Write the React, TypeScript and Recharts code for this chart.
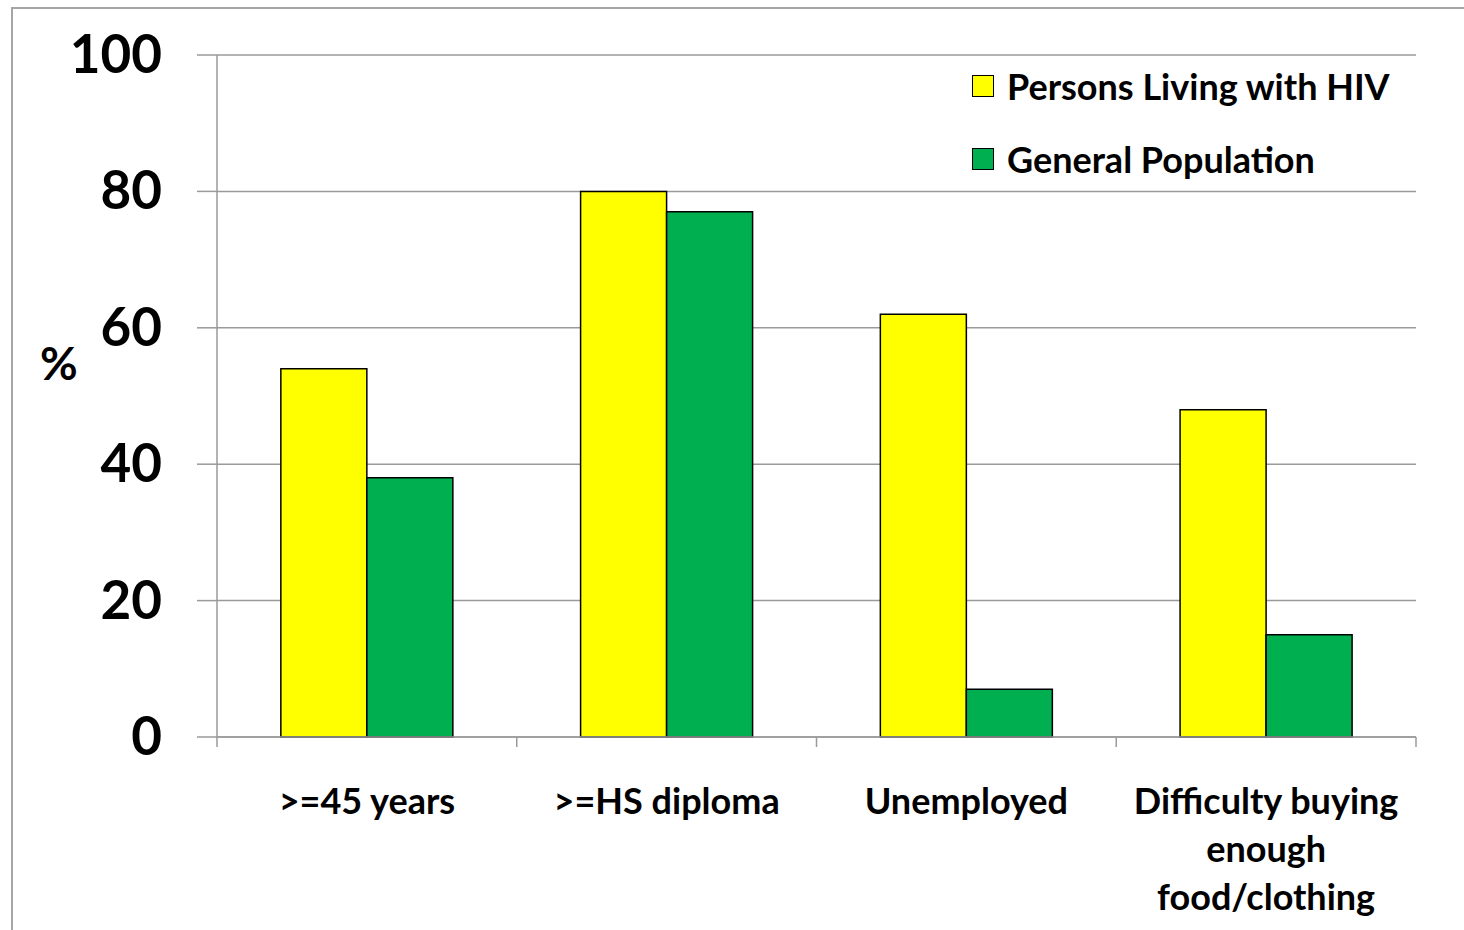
import React from 'react';
import { BarChart, Bar, XAxis, YAxis, CartesianGrid, Legend } from 'recharts';

const categories = ['>=45 years', '>=HS diploma', 'Unemployed', 'Difficulty buying enough food/clothing'];
const categoryLines = [['>=45 years'], ['>=HS diploma'], ['Unemployed'], ['Difficulty buying', 'enough', 'food/clothing']];
const plwh = [54, 80, 62, 48];
const general = [38, 77, 7, 15];
const yTicks = [0, 20, 40, 60, 80, 100];
const seriesNames = ['Persons Living with HIV', 'General Population'];
const seriesColors = ['#FFFF00', '#00B050'];

const data = categories.map((c, i) => ({ cat: c, idx: i, plwh: plwh[i], general: general[i] }));

const FONT = 'Lato, "Open Sans", sans-serif';
const GRID = '#9a9a9a';

const CatTick = (props: any) => {
  const { x, y, payload, index } = props;
  const half = payload && payload.offset ? payload.offset : 149.875;
  const lines = categoryLines[payload.index ?? index] || [payload.value];
  return (
    <g>
      <line x1={x - half} x2={x - half} y1={y - 10} y2={y} stroke={GRID} strokeWidth={1.5} />
      {index === categories.length - 1 && (
        <line x1={x + half} x2={x + half} y1={y - 10} y2={y} stroke={GRID} strokeWidth={1.5} />
      )}
      {lines.map((l: string, i: number) => (
        <text key={i} x={x} y={y + 67 + i * 48} textAnchor="middle" fontFamily={FONT} fontWeight={700} fontSize={36} fill="#000">
          {l}
        </text>
      ))}
    </g>
  );
};

const YTick = (props: any) => {
  const { x, y, payload } = props;
  return (
    <text x={x} y={y + 18} textAnchor="end" fontFamily={FONT} fontWeight={700} fontSize={53} fill="#000">
      {payload.value}
    </text>
  );
};

const LegendContent = () => (
  <div style={{ fontFamily: FONT, fontWeight: 700, fontSize: 36, color: '#000' }}>
    {seriesNames.map((n, i) => (
      <div key={n} style={{ display: 'flex', alignItems: 'center', height: 73 }}>
        <div style={{ width: 20, height: 20, background: seriesColors[i], border: '1.5px solid #000', marginRight: 13 }} />
        <span>{n}</span>
      </div>
    ))}
  </div>
);

export default function App() {
  return (
    <div style={{ position: 'absolute', left: 0, top: 0, width: 1464, height: 930, overflow: 'hidden', background: '#fff' }}>
      <div style={{ position: 'absolute', left: 11, top: 7, width: 1500, height: 1000, borderTop: '2px solid #a6a6a6', borderLeft: '2px solid #a6a6a6' }} />
      <div style={{ position: 'absolute', left: 0, top: 0 }}>
        <BarChart
          width={1464}
          height={930}
          data={data}
          margin={{ top: 55, right: 48, bottom: 0, left: 0 }}
          barCategoryGap="21.3%"
          barGap={0}
        >
          <CartesianGrid vertical={false} stroke={GRID} strokeWidth={1.5} />
          <XAxis
            dataKey="cat"
            height={193}
            interval={0}
            tickLine={false}
            tickSize={10}
            tickMargin={0}
            axisLine={{ stroke: GRID, strokeWidth: 1.5 }}
            tick={<CatTick />}
          />
          <YAxis
            width={217}
            domain={[0, 100]}
            ticks={yTicks}
            interval={0}
            tickSize={20}
            tickMargin={35}
            tickLine={{ stroke: GRID, strokeWidth: 1.5 }}
            axisLine={{ stroke: GRID, strokeWidth: 1.5 }}
            tick={<YTick />}
            label={{ value: '%', position: 'insideLeft', offset: 40, dy: -32, style: { fontFamily: FONT, fontWeight: 700, fontSize: 46, fill: '#000' } }}
          />
          <Legend
            verticalAlign="middle"
            align="center"
            layout="vertical"
            wrapperStyle={{ top: 49, left: 972, width: 480, height: 150 }}
            content={<LegendContent />}
          />
          <Bar dataKey="plwh" name={seriesNames[0]} fill={seriesColors[0]} stroke="#000" strokeWidth={1.5} isAnimationActive={false} />
          <Bar dataKey="general" name={seriesNames[1]} fill={seriesColors[1]} stroke="#000" strokeWidth={1.5} isAnimationActive={false} />
        </BarChart>
      </div>
    </div>
  );
}
